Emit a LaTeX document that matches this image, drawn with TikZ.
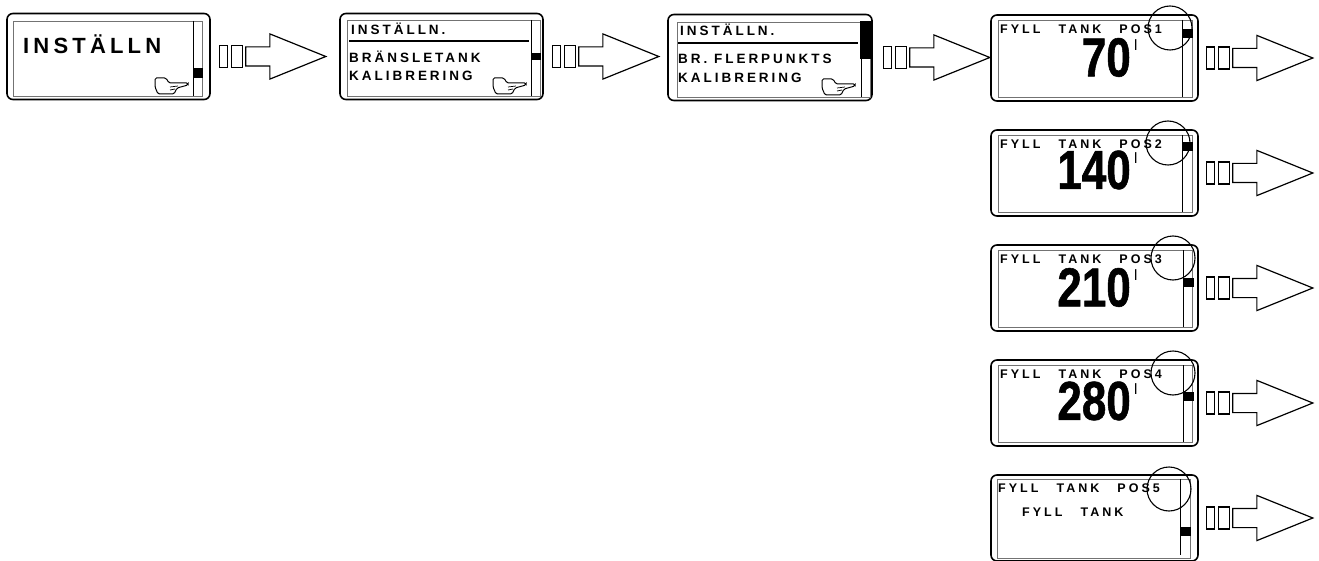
\documentclass[tikz,border=0pt]{standalone}
\usepackage{fontspec}
\setmainfont{Liberation Sans}
\newfontface\lcdfont[LetterSpace=22]{Liberation Sans Bold}
\newfontface\lcdbig[LetterSpace=19]{Liberation Sans Bold}
\newfontface\lcdpos[LetterSpace=24, WordSpace=2.8]{Liberation Sans Bold}
\newfontface\lcdvalue[FakeStretch=0.8, FakeBold=1]{Liberation Sans Bold}
\usetikzlibrary{shapes.arrows, positioning}
\tikzstyle{screen} = [rectangle, rounded corners=6pt, minimum height=86pt, draw=black, line width=1.6pt, inner sep=0pt]
\tikzstyle{panel} = [draw=black!55, line width=0.7pt]
\tikzstyle{divider} = [draw=black, line width=0.9pt]
\tikzstyle{marker} = [fill=black, draw=none, rectangle, inner sep=0pt, minimum width=10pt]
\tikzstyle{label} = [font=\lcdfont\fontsize{13.5}{14}\selectfont, anchor=west, inner sep=0pt]
\tikzstyle{poslabel} = [font=\lcdpos\fontsize{12.5}{13}\selectfont, anchor=west, inner sep=0pt]
\tikzstyle{value} = [font=\lcdvalue\fontsize{55}{55}\selectfont, anchor=east, inner sep=0pt]
\tikzstyle{litre} = [font=\fontsize{15}{15}\selectfont, anchor=north west, inner sep=0pt]
\tikzstyle{lens} = [circle, draw=black, line width=1.1pt, minimum size=44pt, inner sep=0pt]
\tikzstyle{barbox} = [rectangle, draw=black, line width=1.2pt, minimum height=22pt, inner sep=0pt]
\tikzstyle{bigarrow} = [single arrow, draw=black, line width=1.2pt, inner xsep=0pt, inner ysep=9pt, minimum height=80pt, single arrow head extend=13pt, single arrow tip angle=44]
\tikzset{hand/.pic={
    \draw [black, line width=1pt, rounded corners=1.5pt] (-16,-8) -- (-5,-8) -- (-2,-3) -- (17,-3) -- (17,-1) -- (6,2) -- (3,8) -- (-13,8) -- (-16,1) -- cycle;
    \draw [black, line width=0.7pt] (-1,1) -- (7,0) (-1,4) -- (4,3);
}}
\newcommand{\nextarrow}[2]{
    \node (#1a) [barbox, minimum width=8pt, right=#2 of #1] {};
    \node (#1b) [barbox, minimum width=11pt, right=3pt of #1a] {};
    \node (#1c) [bigarrow, right=2pt of #1b] {};
}
\begin{document}
\begin{tikzpicture}[x=1pt, y=-1pt]
    \useasboundingbox (0,0) rectangle (1319,561);

    % top row
    \node (set) [screen, minimum width=203pt] at (108.5,56.5) {};
    \draw [panel] (13,21) rectangle (202,96);
    \draw [divider] (193,21) -- (193,96);
    \node (setm) [marker, minimum height=10pt] at (198,73) {};
    \node (sett) [label, font=\lcdbig\fontsize{22}{22}\selectfont] at (23,44) {INSTÄLLN};
    \pic at (171,86) {hand};
    \nextarrow{set}{8pt}

    \node (tank) [screen, minimum width=203pt] at (441.5,56.5) {};
    \draw [panel] (347,20) rectangle (540,96);
    \draw [divider] (531,20) -- (531,96);
    \draw [divider, line width=1.2pt] (349,41) -- (529,41);
    \node (tankm) [marker, minimum height=7pt] at (536,56.5) {};
    \node (tankt) [label] at (351,29) {INSTÄLLN.};
    \node (tankx) [label] at (349,57) {BRÄNSLETANK};
    \node (tanky) [label] at (349,76) {KALIBRERING};
    \pic at (509,86) {hand};
    \nextarrow{tank}{8pt}

    \node (multi) [screen, minimum width=204pt] at (770,57.5) {};
    \draw [panel] (677,22) rectangle (870,97);
    \draw [divider] (861,22) -- (861,97);
    \draw [divider, line width=1.2pt] (678,43) -- (858,43);
    \node (multim) [marker, minimum width=11pt, minimum height=38pt] at (865.5,40.5) {};
    \node (multit) [label] at (680,30) {INSTÄLLN.};
    \node (multix) [label] at (678,59) {BR. FLERPUNKTS};
    \node (multiy) [label] at (678,78) {KALIBRERING};
    \pic at (838,87) {hand};
    \nextarrow{multi}{10pt}

    % fill positions
    \foreach \name/\ypos/\pos/\amount/\vpos/\mpos/\div/\lensx in {a/58/1/70/57.5/34/1182/1170, b/173/2/140/170/147/1182/1168, c/288/3/210/287.5/282.5/1183/1173, d/403/4/280/401/396.5/1183/1173} {
        \node (\name) [screen, minimum width=207pt] at (1094.5,\ypos) {};
        \draw [panel] (998,\ypos-38) rectangle (1192,\ypos+39);
        \draw [divider] (\div,\ypos-38) -- (\div,\ypos+39);
        \node (\name m) [marker, minimum height=9pt] at (\div+5.5,\mpos) {};
        \node (\name t) [poslabel] at (1000,\ypos-29) {FYLL TANK POS\pos};
        \node (\name v) [value] at (1131,\vpos) {\amount};
        \node (\name l) [litre] at ([xshift=3pt,yshift=-2pt]\name v.north east) {l};
        \node (\name o) [lens] at (\lensx,\ypos-30) {};
        \nextarrow{\name}{7pt}
    }
    \node (e) [screen, minimum width=207pt] at (1094.5,518) {};
    \draw [panel] (997,479) rectangle (1190,558);
    \draw [divider] (1180,479) -- (1180,555);
    \node (em) [marker, minimum height=9pt] at (1185.5,531.5) {};
    \node (et) [poslabel] at (998,488) {FYLL TANK POS5};
    \node (ev) [poslabel] at (1022,512) {FYLL TANK};
    \node (eo) [lens] at (1169,489) {};
    \nextarrow{e}{7pt}
\end{tikzpicture}
\end{document}
